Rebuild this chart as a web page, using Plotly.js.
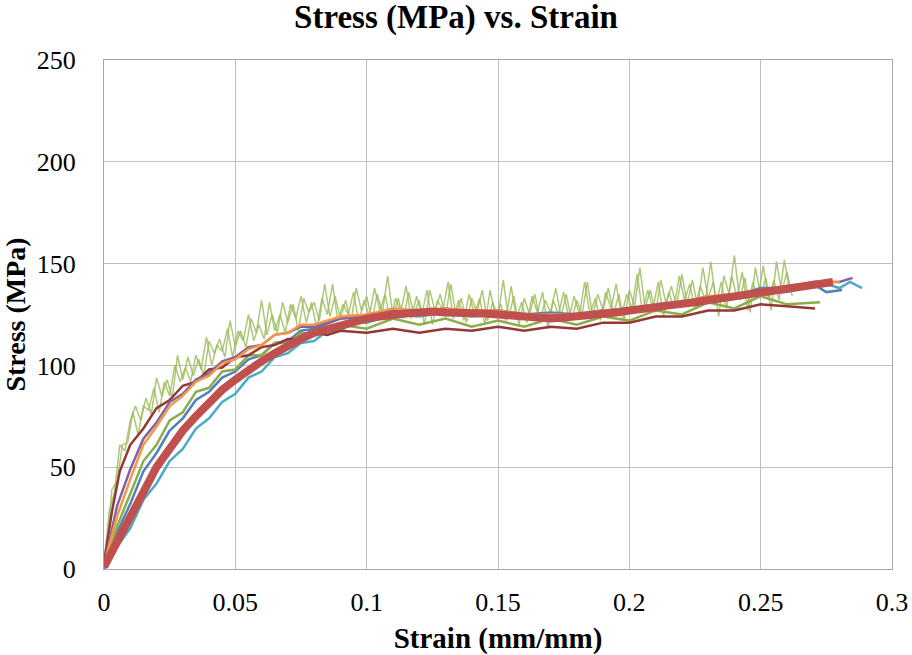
<!DOCTYPE html>
<html>
<head>
<meta charset="utf-8">
<script src="https://cdn.plot.ly/plotly-3.0.1.min.js"></script>
</head>
<body style="margin:0;background:#fff">
<div id="chart" style="width:912px;height:655px"></div>
<script>
// ---- Data (strain in mm/mm, stress in MPa) ----
const greenAStrain = [0,0.002,0.004,0.006,0.008,0.010,0.012,0.014,0.016,0.018,0.020,0.022,0.024,0.026,0.028,0.030,0.032,0.034,0.036,0.038,0.040,0.042,0.044,0.046,0.048,0.050,0.052,0.054,0.056,0.058,0.060,0.062,0.064,0.066,0.068,0.070,0.072,0.074,0.076,0.078,0.080,0.082,0.084,0.086,0.088,0.090,0.092,0.094,0.096,0.098,0.100,0.102,0.104,0.106,0.108,0.110,0.112,0.114,0.116,0.118,0.120,0.122,0.124,0.126,0.128,0.130,0.132,0.134,0.136,0.138,0.140,0.142,0.144,0.146,0.148,0.150,0.152,0.154,0.156,0.158,0.160,0.162,0.164,0.166,0.168,0.170,0.172,0.174,0.176,0.178,0.180,0.182,0.184,0.186,0.188,0.190,0.192,0.194,0.196,0.198,0.200,0.202,0.204,0.206,0.208,0.210,0.212,0.214,0.216,0.218,0.220,0.222,0.224,0.226,0.228,0.230,0.232,0.234,0.236,0.238,0.240,0.242,0.244,0.246,0.248,0.250,0.252,0.254,0.256,0.258,0.260,0.262];
const greenAStress = [3,28,38,61,58,73,80,73,84,76,94,85,93,84,105,93,104,95,103,95,112,106,113,104,122,109,117,109,123,116,132,115,125,116,131,121,130,117,133,126,131,122,140,124,134,123,132,121,138,127,134,122,135,126,144,124,133,123,136,125,132,120,137,127,135,124,140,125,133,121,133,126,137,122,131,124,142,123,134,120,133,125,135,122,132,126,138,124,135,122,132,125,141,124,135,127,138,125,135,122,137,129,148,128,137,126,142,130,139,129,145,130,142,129,148,133,141,124,144,135,154,132,143,126,148,134,143,127,151,136,146,134];

const greenCStrain = [0.001,0.003,0.005,0.007,0.009,0.011,0.013,0.015,0.017,0.019,0.021,0.023,0.025,0.027,0.029,0.031,0.033,0.035,0.037,0.039,0.041,0.043,0.045,0.047,0.049,0.051,0.053,0.055,0.057,0.059,0.061,0.063,0.065,0.067,0.069,0.071,0.073,0.075,0.077,0.079,0.081,0.083,0.085,0.087,0.089,0.091,0.093,0.095,0.097,0.099,0.101,0.103,0.105,0.107,0.109,0.111,0.113,0.115,0.117,0.119,0.121,0.123,0.125,0.127,0.129,0.131,0.133,0.135,0.137,0.139,0.141,0.143,0.145,0.147,0.149,0.151,0.153,0.155,0.157,0.159,0.161,0.163,0.165,0.167,0.169,0.171,0.173,0.175,0.177,0.179,0.181,0.183,0.185,0.187,0.189,0.191,0.193,0.195,0.197,0.199,0.201,0.203,0.205,0.207,0.209,0.211,0.213,0.215,0.217,0.219,0.221,0.223,0.225,0.227,0.229,0.231,0.233,0.235,0.237,0.239,0.241,0.243,0.245,0.247,0.249,0.251,0.253,0.255,0.257,0.259,0.261];
const greenCStress = [11,39,43,61,62,77,66,80,78,89,77,92,85,100,92,99,92,105,98,114,100,110,107,118,104,117,112,125,112,120,113,131,117,125,116,130,123,134,121,131,118,133,125,140,122,130,125,136,121,132,124,138,127,135,122,133,126,139,123,134,125,137,120,132,127,141,123,132,122,135,125,133,120,137,124,130,122,139,123,131,121,134,126,136,118,132,125,136,123,134,125,141,125,133,122,136,128,140,124,135,128,145,126,137,128,141,124,136,128,144,132,140,128,139,132,151,130,141,128,144,133,146,127,141,133,149,132,142,132,152,136];

const cyanStrain = [0,0.005,0.01,0.015,0.02,0.025,0.03,0.035,0.04,0.045,0.05,0.055,0.06,0.065,0.07,0.075,0.08,0.085,0.09,0.095,0.1,0.11,0.12,0.13,0.14,0.15,0.16,0.17,0.18,0.19,0.2,0.21,0.22,0.23,0.24,0.25,0.26,0.27,0.275,0.28,0.284,0.2886];
const cyanStress = [0,11,20,34,42,53,59,69,74,82,86,94,97,104,106,111,112,117,117,121,121,125,124,126,124,125,123,124,123,126,126,129,129,132,133,136,136,139,140,138,141,138];

const blueStrain = [0,0.005,0.01,0.015,0.02,0.025,0.03,0.035,0.04,0.045,0.05,0.055,0.06,0.065,0.07,0.075,0.08,0.09,0.1,0.11,0.12,0.13,0.14,0.15,0.16,0.17,0.18,0.19,0.2,0.21,0.22,0.23,0.24,0.25,0.26,0.27,0.275,0.281];
const blueStress = [0,18,32,48,57,68,74,83,87,94,97,103,105,111,112,117,118,123,124,127,126,128,126,127,125,126,125,127,128,130,131,134,134,138,138,140,136,137];

const greenBStrain = [0,0.005,0.01,0.015,0.02,0.025,0.03,0.035,0.04,0.045,0.05,0.055,0.06,0.065,0.07,0.075,0.08,0.09,0.1,0.11,0.12,0.13,0.14,0.15,0.16,0.17,0.18,0.19,0.2,0.21,0.22,0.23,0.24,0.25,0.26,0.2726];
const greenBStress = [2,21,37,53,61,73,77,87,89,97,98,105,105,111,111,116,115,120,118,123,120,123,119,122,119,123,120,124,122,127,125,131,128,134,130,131];

const darkRedStrain = [0,0.003,0.006,0.01,0.015,0.02,0.025,0.03,0.035,0.04,0.045,0.05,0.055,0.06,0.065,0.07,0.075,0.08,0.085,0.09,0.1,0.11,0.12,0.13,0.14,0.15,0.16,0.17,0.18,0.19,0.2,0.21,0.22,0.23,0.24,0.25,0.26,0.2707];
const darkRedStress = [3,28,48,61,69,79,83,90,92,98,99,104,105,109,110,113,113,116,115,117,116,118,116,118,117,119,117,119,118,121,121,124,124,127,127,130,129,128];

const purpleStrain = [0,0.005,0.01,0.015,0.02,0.025,0.03,0.035,0.04,0.045,0.05,0.055,0.06,0.065,0.07,0.075,0.08,0.09,0.1,0.11,0.12,0.13,0.14,0.15,0.16,0.17,0.18,0.19,0.2,0.21,0.22,0.23,0.24,0.25,0.26,0.27,0.28,0.285];
const purpleStress = [2,31,49,64,72,82,86,93,96,102,104,109,110,115,116,119,119,123,124,127,126,128,126,127,125,125,125,127,127,130,130,133,134,137,138,141,141,143];

const orangeStrain = [0,0.005,0.01,0.015,0.02,0.025,0.03,0.035,0.04,0.045,0.05,0.055,0.06,0.065,0.07,0.075,0.08,0.09,0.1,0.11,0.12,0.13,0.14,0.15,0.16,0.17,0.18,0.19,0.2,0.21,0.22,0.23,0.24,0.25,0.26,0.27,0.28];
const orangeStress = [2,26,44,61,70,80,85,92,95,101,103,108,110,115,116,120,120,124,125,128,127,128,127,127,125,125,125,127,128,130,131,134,135,137,138,141,141];

const redStrain = [0,0.002,0.005,0.01,0.015,0.02,0.025,0.03,0.035,0.04,0.045,0.05,0.055,0.06,0.065,0.07,0.075,0.08,0.085,0.09,0.095,0.1,0.105,0.11,0.115,0.12,0.125,0.13,0.135,0.14,0.145,0.15,0.155,0.16,0.165,0.17,0.175,0.18,0.185,0.19,0.195,0.2,0.205,0.21,0.215,0.22,0.225,0.23,0.235,0.24,0.245,0.25,0.255,0.26,0.265,0.27,0.275,0.2775];
const redStress = [1,6,13,27,38,50,59,68,75,82,88,93,98,102,106,110,113,116,118,120,121.5,123,124,125,125.5,126,126.5,126,126,125.5,125.5,125,124.5,124,123.5,123,123.5,124,124.5,125,126,127,127.5,128.5,129.5,130,131,132,133,134,135,136,137,138,139,140,140.5,141];

const xTicks = [0,0.05,0.1,0.15,0.2,0.25,0.3];
const xTickText = ["0","0.05","0.1","0.15","0.2","0.25","0.3"];
const yTicks = [0,50,100,150,200,250];

function series(x, y, color, width, opacity) {
  return {x: x, y: y, type: 'scatter', mode: 'lines',
          line: {color: color, width: width}, opacity: opacity, hoverinfo: 'skip', showlegend: false};
}

const traces = [
  series(greenAStrain, greenAStress, '#9BBB59', 1.5, 0.8),
  series(greenCStrain, greenCStress, '#9BBB59', 1.5, 0.8),
  series(cyanStrain, cyanStress, '#4BACC6', 2.5, 1),
  series(blueStrain, blueStress, '#4F81BD', 2.5, 1),
  series(greenBStrain, greenBStress, '#8AAE4A', 2.5, 1),
  series(darkRedStrain, darkRedStress, '#953735', 2.5, 1),
  series(purpleStrain, purpleStress, '#8064A2', 2.5, 1),
  series(orangeStrain, orangeStress, '#F79646', 2.5, 1),
  series(redStrain, redStress, '#C0504D', 8, 1)
];

const FF = 'Liberation Serif';
const layout = {
  width: 912, height: 655,
  margin: {l: 104, r: 20, t: 60, b: 86},
  paper_bgcolor: '#ffffff', plot_bgcolor: '#ffffff',
  font: {family: FF, size: 26, color: '#000000'},
  title: {text: '<b>Stress (MPa) vs. Strain</b>', font: {family: FF, size: 33, color: '#000000'},
          x: 0.5, xref: 'container', y: 0.992, yref: 'container', yanchor: 'top'},
  xaxis: {
    range: [0, 0.3], tickmode: 'array', tickvals: xTicks, ticktext: xTickText,
    showgrid: true, gridcolor: '#bfbfbf', gridwidth: 1,
    showline: true, linecolor: '#a6a6a6', linewidth: 1, mirror: true,
    zeroline: false, ticks: 'outside', ticklen: 10, tickcolor: 'rgba(0,0,0,0)',
    tickfont: {family: FF, size: 26, color: '#000000'},
    title: {text: '<b>Strain (mm/mm)</b>', font: {family: FF, size: 29, color: '#000000'}, standoff: 12}
  },
  yaxis: {
    range: [0, 250], tickmode: 'array', tickvals: yTicks,
    showgrid: true, gridcolor: '#bfbfbf', gridwidth: 1,
    showline: true, linecolor: '#a6a6a6', linewidth: 1, mirror: true,
    zeroline: false, ticks: 'outside', ticklen: 22, tickcolor: 'rgba(0,0,0,0)',
    tickfont: {family: FF, size: 26, color: '#000000'},
    title: {text: '<b>Stress (MPa)</b>', font: {family: FF, size: 28, color: '#000000'}, standoff: 6}
  }
};

Plotly.newPlot('chart', traces, layout, {displayModeBar: false});
</script>
</body>
</html>
